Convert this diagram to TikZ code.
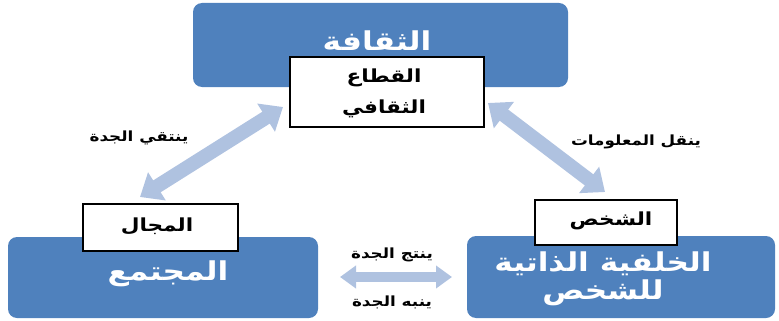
\documentclass[tikz,border=0pt]{standalone}
\usepackage{fontspec}
\newfontfamily\arabicfont[Script=Arabic,FakeStretch=1.2]{DejaVu Sans}
\TeXXeTstate=1
\usetikzlibrary{arrows.meta}
\definecolor{boxblue}{HTML}{4F81BD}
\definecolor{arrowblue}{HTML}{AFC2E0}
\tikzset{
  bluebox/.style={draw=none, fill=boxblue, rounded corners=9pt, inner sep=0pt},
  tagbox/.style={draw=black, line width=2pt, fill=white, inner sep=0pt},
  bigtext/.style={font=\arabicfont\bfseries\fontsize{26}{30}\selectfont, text=white, align=center},
  tagtext/.style={font=\arabicfont\bfseries\fontsize{18}{20}\selectfont, align=center},
  smalltext/.style={font=\arabicfont\bfseries\fontsize{14}{16}\selectfont},
  fatarrow/.style={draw=arrowblue, line width=14pt,
    {Triangle[length=20pt,width=32pt]}-{Triangle[length=20pt,width=32pt]}},
  thinarrow/.style={draw=arrowblue, line width=10pt,
    {Triangle[length=16pt,width=22pt]}-{Triangle[length=16pt,width=22pt]}}
}
\begin{document}
\begin{tikzpicture}[x=1pt, y=-1pt]
  \useasboundingbox (0,0) rectangle (779,321);

  % الصناديق الزرقاء
  \node[bluebox, minimum width=375pt, minimum height=84pt] (culture) at (380.5,45) {};
  \node[bluebox, minimum width=310pt, minimum height=81pt] (society) at (163,277.5) {};
  \node[bluebox, minimum width=308pt, minimum height=82pt] (person) at (621,277) {};

  \node[bigtext] (cultureText) at (377,41) {\beginR الثقافة\endR};
  \node[bigtext] (societyText) at (168,274) {\beginR المجتمع\endR};
  \node[bigtext, font=\arabicfont\bfseries\fontsize{26}{28}\selectfont] (personText) at (603,279)
    {\beginR الخلفية الذاتية\endR\\\beginR للشخص\endR};

  % الصناديق البيضاء
  \node[tagbox, minimum width=194pt, minimum height=70pt] (sector) at (387,92) {};
  \node[tagtext] (sectorText) at (384,93) {\beginR القطاع\endR\\[11pt]\beginR الثقافي\endR};
  \node[tagbox, minimum width=155pt, minimum height=47pt] (field) at (160,227) {};
  \node[tagtext] (fieldText) at (157,226) {\beginR المجال\endR};
  \node[tagbox, minimum width=142pt, minimum height=45pt] (self) at (606,222.5) {};
  \node[tagtext] (selfText) at (611,221) {\beginR الشخص\endR};

  % الأسهم
  \coordinate (leftTop) at (283,107);
  \coordinate (leftLow) at (140,197);
  \coordinate (rightTop) at (488,103);
  \coordinate (rightLow) at (605,192);
  \coordinate (midLeft) at (340,277);
  \coordinate (midRight) at (452,277);
  \draw[fatarrow] (leftTop) -- (leftLow);
  \draw[fatarrow] (rightTop) -- (rightLow);
  \draw[thinarrow] (midLeft) -- (midRight);

  % التسميات
  \node[smalltext] (selects) at (139,138) {\beginR ينتقي الجدة\endR};
  \node[smalltext] (transfers) at (636,142) {\beginR ينقل المعلومات\endR};
  \node[smalltext] (produces) at (392,255) {\beginR ينتج الجدة\endR};
  \node[smalltext] (alerts) at (392,302) {\beginR ينبه الجدة\endR};
\end{tikzpicture}
\end{document}
